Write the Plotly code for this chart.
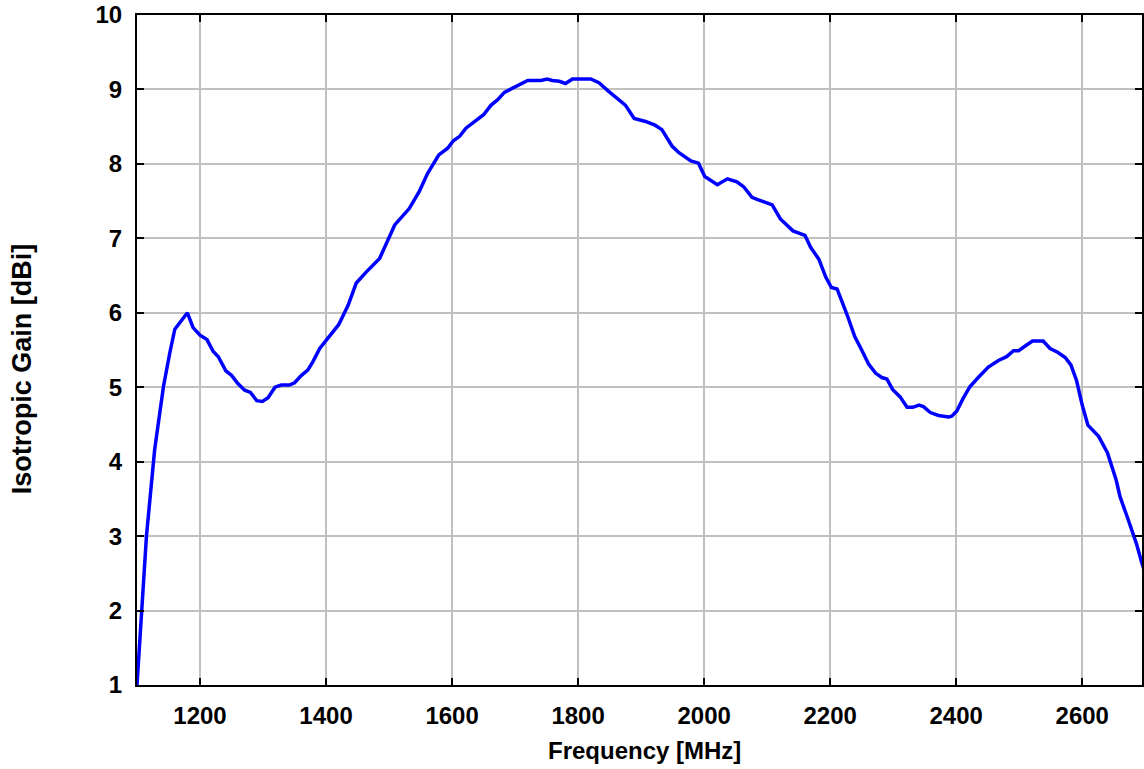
import plotly.graph_objects as go

freq_mhz = [1100, 1107, 1115, 1128, 1142, 1152, 1160, 1180, 1189, 1200,
            1211, 1221, 1229, 1241, 1250, 1260, 1271, 1280, 1290, 1299,
            1308, 1319, 1329, 1342, 1350, 1361, 1371, 1379, 1390, 1403,
            1420, 1435, 1448, 1464, 1485, 1509, 1532, 1548, 1561, 1579,
            1593, 1602, 1612, 1622, 1639, 1650, 1662, 1672, 1683, 1696,
            1707, 1720, 1741, 1751, 1759, 1770, 1780, 1791, 1820, 1833,
            1849, 1862, 1875, 1889, 1907, 1922, 1933, 1949, 1960, 1979,
            1991, 2001, 2021, 2037, 2052, 2063, 2076, 2085, 2108, 2121,
            2141, 2160, 2169, 2182, 2193, 2202, 2211, 2227, 2239, 2250,
            2261, 2272, 2282, 2290, 2299, 2311, 2322, 2331, 2341, 2348,
            2359, 2372, 2388, 2393, 2401, 2411, 2422, 2435, 2451, 2467,
            2480, 2491, 2499, 2509, 2521, 2538, 2549, 2561, 2573, 2582,
            2591, 2600, 2609, 2626, 2640, 2654, 2660, 2673, 2686, 2695,
            2700]

gain_dbi = [1.00, 2.00, 3.00, 4.16, 5.01, 5.46, 5.78, 6.00, 5.80, 5.70,
            5.64, 5.48, 5.41, 5.22, 5.16, 5.05, 4.96, 4.93, 4.82, 4.81,
            4.86, 5.00, 5.03, 5.03, 5.06, 5.16, 5.23, 5.34, 5.52, 5.66,
            5.84, 6.10, 6.40, 6.55, 6.73, 7.18, 7.40, 7.63, 7.87, 8.12,
            8.21, 8.31, 8.37, 8.48, 8.59, 8.66, 8.79, 8.86, 8.96, 9.02,
            9.06, 9.12, 9.12, 9.14, 9.12, 9.11, 9.08, 9.14, 9.14, 9.09,
            8.97, 8.88, 8.79, 8.61, 8.57, 8.52, 8.46, 8.24, 8.15, 8.04,
            8.01, 7.83, 7.72, 7.80, 7.76, 7.69, 7.55, 7.52, 7.45, 7.26,
            7.10, 7.04, 6.88, 6.72, 6.48, 6.34, 6.32, 5.97, 5.68, 5.50,
            5.31, 5.19, 5.13, 5.11, 4.97, 4.87, 4.73, 4.73, 4.76, 4.74,
            4.66, 4.62, 4.60, 4.61, 4.68, 4.85, 5.01, 5.13, 5.27, 5.36,
            5.41, 5.49, 5.49, 5.55, 5.62, 5.62, 5.52, 5.47, 5.40, 5.30,
            5.09, 4.76, 4.49, 4.34, 4.12, 3.75, 3.53, 3.22, 2.90, 2.63,
            2.50]

x_ticks = [1200, 1400, 1600, 1800, 2000, 2200, 2400, 2600]
y_ticks = [1, 2, 3, 4, 5, 6, 7, 8, 9, 10]
x_title = "Frequency [MHz]"
y_title = "Isotropic Gain [dBi]"

FONT = "Liberation Sans, Arial, Helvetica, sans-serif"

fig = go.Figure()
fig.add_trace(go.Scatter(
    x=freq_mhz, y=gain_dbi, mode="lines",
    line=dict(color="#0000ff", width=3.5),
    showlegend=False, hoverinfo="skip",
))

W, H = 1144, 769
L, T, B, R = 137, 15, 84, 0
plot_w = W - L - R
plot_h = H - T - B
x_end = 1100 + plot_w / 0.6314  # reference frame runs a few px past the window

axis_common = dict(
    showline=True, linecolor="black", linewidth=2,
    ticks="inside", ticklen=7, tickwidth=2, tickcolor="black",
    mirror="allticks",
    showgrid=True, gridcolor="#c0c0c0", gridwidth=1.5,
    zeroline=False, ticklabeloverflow="allow",
    tickfont=dict(family=FONT, size=24, color="black", weight="bold"),
)

fig.update_layout(
    width=W, height=H,
    margin=dict(l=L, r=R, t=T, b=B, pad=0),
    paper_bgcolor="white", plot_bgcolor="white",
    font=dict(family=FONT, color="black"),
    xaxis=dict(range=[1100, x_end], tickmode="array", tickvals=x_ticks,
               ticklabelstandoff=8, **axis_common),
    yaxis=dict(range=[1, 10], tickmode="array", tickvals=y_ticks,
               ticklabelstandoff=8, **axis_common),
    annotations=[
        dict(text=x_title, xref="paper", yref="paper",
             x=(645.5 - L) / plot_w, y=-(750 - 685) / plot_h,
             xanchor="center", yanchor="middle", showarrow=False,
             font=dict(family=FONT, size=24, color="black", weight="bold")),
        dict(text=y_title, xref="paper", yref="paper", textangle=-90,
             x=(22 - L) / plot_w, y=(685 - 369) / plot_h,
             xanchor="center", yanchor="middle", showarrow=False,
             font=dict(family=FONT, size=27, color="black", weight="bold")),
    ],
)

fig.write_html(
    "out.html",
    config={"displayModeBar": False},
    post_script=("document.body.style.margin='0';"
                 "document.body.style.overflow='hidden';"),
)
